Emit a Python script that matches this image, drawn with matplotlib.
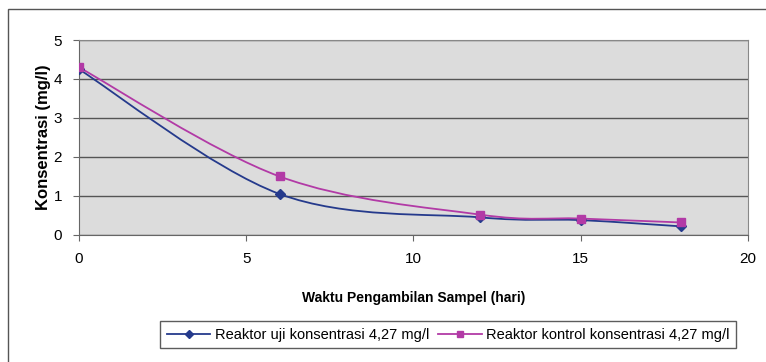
import numpy as np
import matplotlib
matplotlib.use('Agg')
import matplotlib.pyplot as plt
from matplotlib.path import Path
from matplotlib.patches import PathPatch, Rectangle
from matplotlib.lines import Line2D

hari = [0, 6, 12, 15, 18]
uji = [4.25, 1.05, 0.45, 0.38, 0.22]
kontrol = [4.30, 1.50, 0.52, 0.42, 0.32]
label_uji = 'Reaktor uji konsentrasi 4,27 mg/l'
label_kontrol = 'Reaktor kontrol konsentrasi 4,27 mg/l'

plt.rcParams['font.family'] = ['Liberation Sans', 'DejaVu Sans']


def smooth_path(x, y, t=1 / 6):
    # Excel-style smoothed line: cubic Bezier through the points
    x = np.asarray(x, float)
    y = np.asarray(y, float)
    n = len(x)
    verts = [(x[0], y[0])]
    codes = [Path.MOVETO]
    for i in range(n - 1):
        x0, y0 = (x[i - 1], y[i - 1]) if i > 0 else (x[i], y[i])
        x3, y3 = (x[i + 2], y[i + 2]) if i + 2 < n else (x[i + 1], y[i + 1])
        c1 = (x[i] + (x[i + 1] - x0) * t, y[i] + (y[i + 1] - y0) * t)
        c2 = (x[i + 1] - (x3 - x[i]) * t, y[i + 1] - (y3 - y[i]) * t)
        verts += [c1, c2, (x[i + 1], y[i + 1])]
        codes += [Path.CURVE4] * 3
    return Path(verts, codes)


fig = plt.figure(figsize=(7.66, 3.62), dpi=100)
fig.patch.set_facecolor('white')
fig.patches.append(Rectangle((0.011, -0.01), 0.99, 0.985, transform=fig.transFigure,
                             fill=False, edgecolor='#555555', linewidth=1.0))

ax = fig.add_axes([0.103, 0.351, 0.8735, 0.5385])
ax.set_facecolor('#dcdcdc')

blue = '#253a8c'
pink = '#b23aa6'

for xs, ys, c in [(hari, uji, blue), (hari, kontrol, pink)]:
    ax.add_patch(PathPatch(smooth_path(xs, ys), facecolor='none', edgecolor=c,
                           linewidth=1.3, zorder=3))
ax.plot(hari, uji, linestyle='none', marker='D', markersize=5, color=blue, zorder=4)
ax.plot(hari, kontrol, linestyle='none', marker='s', markersize=6, color=pink, zorder=4)

ax.set_xlim(0, 20)
ax.set_ylim(0, 5)
ax.set_xticks([0, 5, 10, 15, 20])
ax.set_yticks([0, 1, 2, 3, 4, 5])
ax.yaxis.grid(True, color='#555555', linewidth=1.0)
ax.set_axisbelow(True)
for s in ['top', 'right']:
    ax.spines[s].set_color('#888888')
for s in ['left', 'bottom']:
    ax.spines[s].set_color('#666666')
ax.tick_params(labelsize=11, length=4, color='#666666', pad=8)
ax.set_xlabel('Waktu Pengambilan Sampel (hari)', fontsize=10, fontweight='bold', labelpad=18)
ax.set_ylabel('Konsentrasi (mg/l)', fontsize=12, fontweight='bold', labelpad=2)

handles = [Line2D([], [], color=blue, marker='D', markersize=4, linewidth=1.3),
           Line2D([], [], color=pink, marker='s', markersize=5, linewidth=1.3)]
fig.legend(handles, [label_uji, label_kontrol], loc='center', bbox_to_anchor=(0.585, 0.075),
           ncol=2, frameon=True, fancybox=False, edgecolor='#333333', fontsize=10.5,
           handlelength=3.0, columnspacing=0.6, handletextpad=0.3, borderpad=0.45)

fig.savefig('out.png', dpi=100)
